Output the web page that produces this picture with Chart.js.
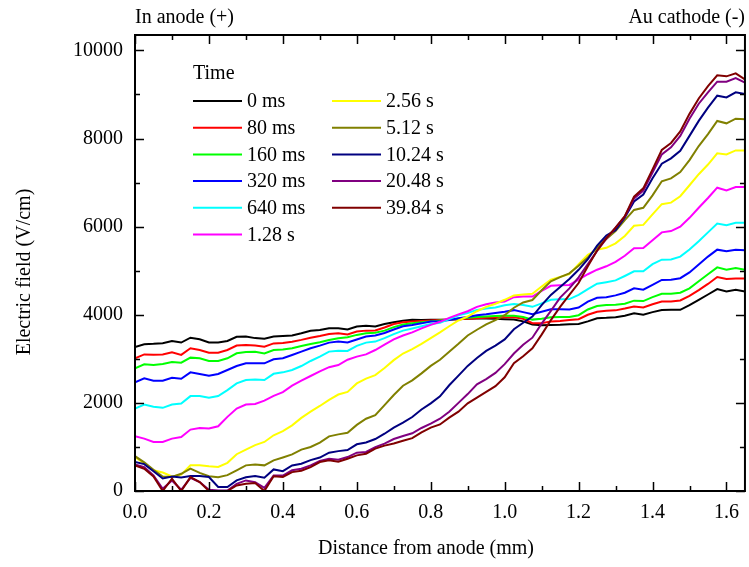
<!DOCTYPE html>
<html>
<head>
<meta charset="utf-8">
<script src="https://cdn.jsdelivr.net/npm/chart.js@4/dist/chart.umd.min.js"></script>
<style>
  html, body { margin: 0; padding: 0; background: #fff; }
  #wrap { width: 749px; height: 567px; }
</style>
</head>
<body>
<div id="wrap"><canvas id="c" width="749" height="567"></canvas></div>
<script>
// distance from anode (mm)
const distance = [0, 0.025, 0.05, 0.075, 0.1, 0.125, 0.15, 0.175, 0.2, 0.225,
  0.25, 0.275, 0.3, 0.325, 0.35, 0.375, 0.4, 0.425, 0.45, 0.475,
  0.5, 0.525, 0.55, 0.575, 0.6, 0.625, 0.65, 0.675, 0.7, 0.725,
  0.75, 0.775, 0.8, 0.825, 0.85, 0.875, 0.9, 0.925, 0.95, 0.975,
  1.0, 1.025, 1.05, 1.075, 1.1, 1.125, 1.15, 1.175, 1.2, 1.225,
  1.25, 1.275, 1.3, 1.325, 1.35, 1.375, 1.4, 1.425, 1.45, 1.475,
  1.5, 1.525, 1.55, 1.575, 1.6, 1.625, 1.65];

// axis ticks (every tick gets a mark, every other one a label)
const xTicks = [0, 0.1, 0.2, 0.3, 0.4, 0.5, 0.6, 0.7, 0.8, 0.9, 1.0, 1.1, 1.2, 1.3, 1.4, 1.5, 1.6];
const yTicks = [0, 1000, 2000, 3000, 4000, 5000, 6000, 7000, 8000, 9000, 10000];

const timeLabels = ['0 ms', '80 ms', '160 ms', '320 ms', '640 ms', '1.28 s',
  '2.56 s', '5.12 s', '10.24 s', '20.48 s', '39.84 s'];
const seriesColors = ['#000000', '#ff0000', '#00ff00', '#0000ff', '#00ffff', '#ff00ff',
  '#ffff00', '#808000', '#000080', '#800080', '#800000'];

// electric field (V/cm)
const field0ms = [3270, 3330, 3340, 3355, 3405, 3370, 3480, 3445, 3370, 3370,
  3405, 3500, 3505, 3470, 3455, 3505, 3520, 3530, 3580, 3635,
  3655, 3695, 3695, 3665, 3735, 3750, 3735, 3790, 3830, 3865,
  3885, 3880, 3885, 3885, 3890, 3900, 3910, 3915, 3915, 3910,
  3900, 3890, 3850, 3780, 3760, 3770, 3775, 3785, 3790, 3850,
  3920, 3930, 3945, 3980, 4036, 4000, 4060, 4110, 4112, 4112,
  4220, 4340, 4460, 4582, 4530, 4567, 4530];
const field80ms = [3010, 3100, 3090, 3100, 3150, 3090, 3240, 3200, 3140, 3140,
  3200, 3300, 3315, 3300, 3277, 3350, 3360, 3390, 3430, 3480,
  3520, 3565, 3580, 3555, 3620, 3640, 3645, 3710, 3790, 3830,
  3846, 3860, 3870, 3880, 3890, 3900, 3910, 3920, 3930, 3940,
  3945, 3945, 3910, 3810, 3810, 3850, 3860, 3880, 3900, 4000,
  4070, 4090, 4100, 4140, 4187, 4165, 4240, 4300, 4301, 4324,
  4430, 4560, 4700, 4856, 4810, 4825, 4825];
const field160ms = [2784, 2875, 2860, 2883, 2928, 2913, 3027, 3012, 2951, 2951,
  3012, 3126, 3156, 3160, 3124, 3200, 3210, 3240, 3293, 3338,
  3376, 3429, 3467, 3490, 3543, 3581, 3590, 3640, 3720, 3780,
  3809, 3832, 3850, 3870, 3890, 3910, 3930, 3950, 3960, 3970,
  3975, 3975, 3950, 3890, 3910, 3945, 3950, 3950, 3990, 4120,
  4200, 4220, 4230, 4250, 4320, 4310, 4400, 4476, 4476, 4500,
  4600, 4760, 4920, 5076, 5023, 5061, 5023];
const field320ms = [2465, 2556, 2503, 2503, 2571, 2548, 2693, 2655, 2617, 2655,
  2746, 2837, 2898, 2900, 2898, 2990, 3012, 3088, 3164, 3240,
  3300, 3368, 3391, 3370, 3440, 3505, 3530, 3585, 3665, 3740,
  3770, 3805, 3845, 3855, 3880, 3920, 3950, 3990, 4010, 4040,
  4070, 4105, 4060, 4015, 4070, 4127, 4127, 4118, 4165, 4300,
  4385, 4400, 4440, 4500, 4600, 4570, 4680, 4790, 4795, 4830,
  4960, 5140, 5320, 5478, 5440, 5478, 5465];
const field640ms = [1873, 1964, 1911, 1888, 1964, 1987, 2154, 2154, 2116, 2154,
  2290, 2442, 2518, 2530, 2518, 2660, 2693, 2746, 2837, 2951,
  3050, 3164, 3186, 3180, 3293, 3368, 3391, 3470, 3560, 3640,
  3690, 3740, 3790, 3820, 3900, 3990, 4040, 4110, 4140, 4165,
  4215, 4245, 4220, 4180, 4260, 4339, 4350, 4355, 4450, 4580,
  4704, 4740, 4780, 4880, 4985, 4985, 5150, 5250, 5255, 5320,
  5480, 5670, 5870, 6071, 6033, 6086, 6086];
const field1280ms = [1242, 1189, 1113, 1113, 1189, 1227, 1394, 1432, 1417, 1470,
  1683, 1873, 1964, 1975, 2050, 2160, 2245, 2390, 2505, 2610,
  2715, 2810, 2860, 2980, 3050, 3100, 3200, 3320, 3440, 3530,
  3600, 3690, 3770, 3840, 3930, 4010, 4080, 4180, 4240, 4280,
  4300, 4400, 4415, 4415, 4540, 4658, 4668, 4678, 4800, 4920,
  5023, 5100, 5200, 5340, 5510, 5517, 5690, 5870, 5900, 6000,
  6200, 6430, 6650, 6884, 6823, 6899, 6900];
const field2560ms = [771, 620, 470, 420, 330, 370, 585, 585, 560, 545,
  640, 835, 940, 1040, 1113, 1265, 1360, 1490, 1660, 1800,
  1930, 2070, 2190, 2250, 2442, 2550, 2630, 2790, 2970, 3120,
  3220, 3340, 3470, 3600, 3740, 3870, 3960, 4080, 4180, 4250,
  4340, 4440, 4460, 4475, 4640, 4795, 4860, 4920, 5150, 5360,
  5478, 5520, 5620, 5790, 6020, 6040, 6280, 6510, 6545, 6690,
  6940, 7190, 7410, 7666, 7640, 7730, 7730];
const field5120ms = [790, 650, 480, 330, 320, 390, 510, 410, 335, 310,
  360, 470, 582, 600, 582, 695, 760, 830, 940, 1000,
  1100, 1240, 1285, 1320, 1500, 1640, 1720, 1950, 2180, 2390,
  2510, 2670, 2840, 2980, 3160, 3340, 3530, 3660, 3780, 3880,
  3990, 4160, 4280, 4335, 4555, 4760, 4855, 4940, 5110, 5300,
  5530, 5720, 5900, 6150, 6380, 6428, 6710, 7030, 7095, 7240,
  7510, 7830, 8100, 8400, 8345, 8450, 8440];
const field10240ms = [657, 610, 450, 285, 330, 305, 338, 338, 316, 90,
  90, 240, 310, 340, 300, 490, 450, 580, 620, 700,
  760, 870, 905, 930, 1060, 1100, 1180, 1300, 1440, 1550,
  1680, 1850, 1990, 2150, 2400, 2620, 2840, 3020, 3180, 3300,
  3440, 3670, 3820, 3960, 4220, 4450, 4630, 4810, 5020, 5260,
  5570, 5800, 5920, 6210, 6570, 6730, 7100, 7430, 7550, 7720,
  8060, 8400, 8700, 8972, 8934, 9048, 9010];
const field20480ms = [604, 543, 353, 50, 240, 27, 300, 202, 27, 10,
  10, 164, 240, 200, 70, 350, 350, 470, 505, 581,
  680, 733, 710, 771, 870, 885, 995, 1075, 1180, 1250,
  1310, 1430, 1530, 1640, 1800, 2000, 2200, 2420, 2540, 2680,
  2880, 3120, 3320, 3480, 3800, 4090, 4390, 4600, 4850, 5150,
  5450, 5730, 5980, 6230, 6640, 6820, 7230, 7640, 7800, 8060,
  8450, 8790, 9050, 9291, 9291, 9374, 9270];
const field39840ms = [581, 505, 331, 0, 278, 0, 316, 202, 0, 0,
  0, 126, 164, 180, 0, 335, 320, 429, 460, 543,
  657, 695, 665, 733, 809, 847, 961, 1030, 1080, 1140,
  1200, 1330, 1440, 1510, 1665, 1800, 1990, 2120, 2250, 2380,
  2580, 2900, 3060, 3240, 3550, 3880, 4180, 4450, 4720, 5100,
  5460, 5740, 5980, 6240, 6680, 6870, 7300, 7740, 7900, 8160,
  8560, 8910, 9190, 9435, 9412, 9480, 9340];

const seriesList = [field0ms, field80ms, field160ms, field320ms, field640ms, field1280ms,
  field2560ms, field5120ms, field10240ms, field20480ms, field39840ms];

const serif = '"Liberation Serif", "Times New Roman", serif';

const datasets = seriesList.map((s, i) => ({
  label: timeLabels[i],
  data: distance.map((d, j) => ({ x: d, y: s[j] })),
  borderColor: seriesColors[i],
  backgroundColor: seriesColors[i],
  borderWidth: 2,
  pointRadius: 0,
  tension: 0,
  fill: false,
  order: seriesList.length - i
}));

// frame, inward ticks, titles and the two-column legend
const decorations = {
  id: 'decorations',
  afterDraw(chart) {
    const { ctx, chartArea: a, scales } = chart;
    const x = scales.x, y = scales.y;
    ctx.save();
    ctx.strokeStyle = '#000';
    ctx.lineWidth = 2;
    ctx.strokeRect(a.left, a.top, a.right - a.left, a.bottom - a.top);

    ctx.lineWidth = 1.5;
    ctx.beginPath();
    x.ticks.forEach(t => {
      const px = Math.round(x.getPixelForValue(t.value)) + 0.5;
      const len = Math.round(t.value * 10) % 2 === 0 ? 9 : 5;
      ctx.moveTo(px, a.bottom); ctx.lineTo(px, a.bottom - len);
      ctx.moveTo(px, a.top); ctx.lineTo(px, a.top + len);
    });
    y.ticks.forEach(t => {
      const py = Math.round(y.getPixelForValue(t.value)) + 0.5;
      const len = Math.round(t.value) % 2000 === 0 ? 9 : 5;
      ctx.moveTo(a.left, py); ctx.lineTo(a.left + len, py);
      ctx.moveTo(a.right, py); ctx.lineTo(a.right - len, py);
    });
    ctx.stroke();

    ctx.fillStyle = '#000';
    ctx.font = '20px ' + serif;
    ctx.textBaseline = 'middle';
    ctx.textAlign = 'left';
    ctx.fillText('In anode (+)', 135, 18);
    ctx.textAlign = 'right';
    ctx.fillText('Au cathode (-)', 745, 18);

    ctx.textAlign = 'center';
    ctx.fillText('Distance from anode (mm)', 426, 549);
    ctx.save();
    ctx.translate(25, 272);
    ctx.rotate(-Math.PI / 2);
    ctx.fillText('Electric field (V/cm)', 0, 0);
    ctx.restore();

    // legend
    ctx.textAlign = 'left';
    ctx.fillText('Time', 193, 74);
    chart.data.datasets.forEach((ds, i) => {
      const col = i < 6 ? 0 : 1;
      const row = i < 6 ? i : i - 6;
      const lx = col === 0 ? 193 : 332;
      const ly = 101 + row * 26.7;
      ctx.strokeStyle = ds.borderColor;
      ctx.lineWidth = 2;
      ctx.beginPath();
      ctx.moveTo(lx, ly);
      ctx.lineTo(lx + 49, ly);
      ctx.stroke();
      ctx.fillStyle = '#000';
      ctx.fillText(ds.label, lx + 54, ly + 1);
    });
    ctx.restore();
  }
};

new Chart(document.getElementById('c'), {
  type: 'line',
  data: { datasets: datasets },
  options: {
    responsive: false,
    animation: false,
    devicePixelRatio: 1,
    layout: { padding: { top: 35, right: 1, left: 0, bottom: 0 } },
    plugins: { legend: { display: false }, tooltip: { enabled: false } },
    scales: {
      x: {
        type: 'linear',
        min: 0,
        max: 1.65,
        grid: { display: false, drawTicks: false },
        border: { display: false },
        afterBuildTicks: s => { s.ticks = xTicks.map(v => ({ value: v })); },
        ticks: {
          padding: 10,
          maxRotation: 0,
          autoSkip: false,
          color: '#000',
          font: { family: serif, size: 20 },
          callback: v => Math.round(v * 10) % 2 === 0 ? v.toFixed(1) : ''
        },
        afterFit: s => { s.height = 76; }
      },
      y: {
        min: 0,
        max: 10350,
        grid: { display: false, drawTicks: false },
        border: { display: false },
        afterBuildTicks: s => { s.ticks = yTicks.map(v => ({ value: v })); },
        ticks: {
          padding: 12,
          autoSkip: false,
          color: '#000',
          font: { family: serif, size: 20 },
          callback: v => Math.round(v) % 2000 === 0 ? String(v) : ''
        },
        afterFit: s => { s.width = 135; }
      }
    }
  },
  plugins: [decorations]
});
</script>
</body>
</html>
